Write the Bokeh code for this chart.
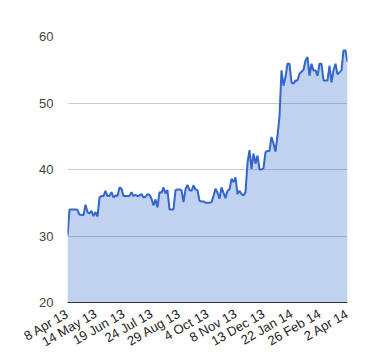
import math
from bokeh.plotting import figure
from bokeh.models import Range1d, FixedTicker, ColumnDataSource
from bokeh.embed import file_html
from bokeh.resources import INLINE

values = [
    30.1, 34.0, 34.0, 34.0, 34.0, 33.9, 33.2, 33.2, 33.1, 34.7,
    33.6, 33.4, 33.8, 33.0, 33.6, 32.9, 35.8, 36.0, 36.0, 36.8,
    36.0, 36.0, 36.6, 35.8, 36.1, 36.0, 37.3, 37.1, 36.0, 36.0,
    36.0, 36.0, 36.6, 36.0, 36.2, 36.0, 36.1, 36.3, 35.8, 35.9,
    36.3, 36.2, 35.6, 34.6, 35.5, 34.3, 36.6, 36.5, 37.3, 36.4,
    36.9, 34.0, 34.0, 34.0, 36.9, 37.0, 37.0, 36.9, 35.1, 37.0,
    37.7, 36.9, 36.8, 37.6, 37.0, 36.9, 35.3, 35.2, 35.2, 35.0,
    35.0, 35.0, 35.1, 36.0, 37.1, 36.5, 35.6, 37.3, 36.5, 35.7,
    36.8, 37.0, 38.6, 38.1, 38.8, 36.3, 36.8, 36.3, 36.1, 36.6,
    41.0, 42.9, 40.1, 42.4, 40.9, 42.1, 40.0, 40.0, 40.2, 42.6,
    42.8, 42.8, 44.9, 43.9, 42.7, 45.1, 48.0, 54.9, 52.6, 53.9,
    55.9, 55.9, 53.1, 52.9, 53.4, 53.4, 54.4, 54.7, 55.0, 56.4,
    56.9, 54.1, 55.9, 54.9, 54.9, 54.1, 55.9, 55.9, 53.4, 53.4,
    53.4, 55.6, 53.1, 54.9, 55.9, 54.3, 54.6, 54.9, 57.9, 57.9,
    56.2,
]
idx = list(range(len(values)))

tick_labels = ["8 Apr 13", "14 May 13", "19 Jun 13", "24 Jul 13", "29 Aug 13",
               "4 Oct 13", "8 Nov 13", "13 Dec 13", "22 Jan 14", "26 Feb 14",
               "2 Apr 14"]
step = (len(values) - 1) / (len(tick_labels) - 1)
tick_pos = [round(i * step) for i in range(len(tick_labels))]

y_ticks = [20, 30, 40, 50, 60]

src = ColumnDataSource(dict(x=idx, y=values, base=[20] * len(values)))

p = figure(width=380, height=360, output_backend="svg", toolbar_location=None,
           x_range=Range1d(0, len(values) - 1), y_range=Range1d(20, 60),
           min_border_left=67, min_border_right=33, min_border_top=36,
           min_border_bottom=58)
p.outline_line_color = None
p.background_fill_color = "white"
p.border_fill_color = "white"

p.varea(x="x", y1="base", y2="y", source=src, fill_color="#3366cc", fill_alpha=0.3)
p.line(x="x", y="y", source=src, line_color="#3366cc", line_width=2)

p.xgrid.grid_line_color = None
p.ygrid.grid_line_color = "#cccccc"
p.ygrid.ticker = FixedTicker(ticks=y_ticks)

p.yaxis.ticker = FixedTicker(ticks=y_ticks)
p.yaxis.axis_line_color = None
p.yaxis.major_tick_line_color = None
p.yaxis.minor_tick_line_color = None
p.yaxis.major_tick_out = 0
p.yaxis.major_label_standoff = 14
p.yaxis.major_label_text_font = "Liberation Sans"
p.yaxis.major_label_text_font_size = "13px"
p.yaxis.major_label_text_color = "#444444"

p.xaxis.ticker = FixedTicker(ticks=tick_pos)
p.xaxis.major_label_overrides = {t: l for t, l in zip(tick_pos, tick_labels)}
p.xaxis.major_label_orientation = math.pi / 6
p.xaxis.axis_line_color = "#333333"
p.xaxis.major_tick_line_color = None
p.xaxis.minor_tick_line_color = None
p.xaxis.major_tick_out = 0
p.xaxis.major_label_standoff = 10
p.xaxis.major_label_text_font = "Liberation Sans"
p.xaxis.major_label_text_font_size = "13px"
p.xaxis.major_label_text_color = "#222222"

open("out.html", "w").write(file_html(p, INLINE))
